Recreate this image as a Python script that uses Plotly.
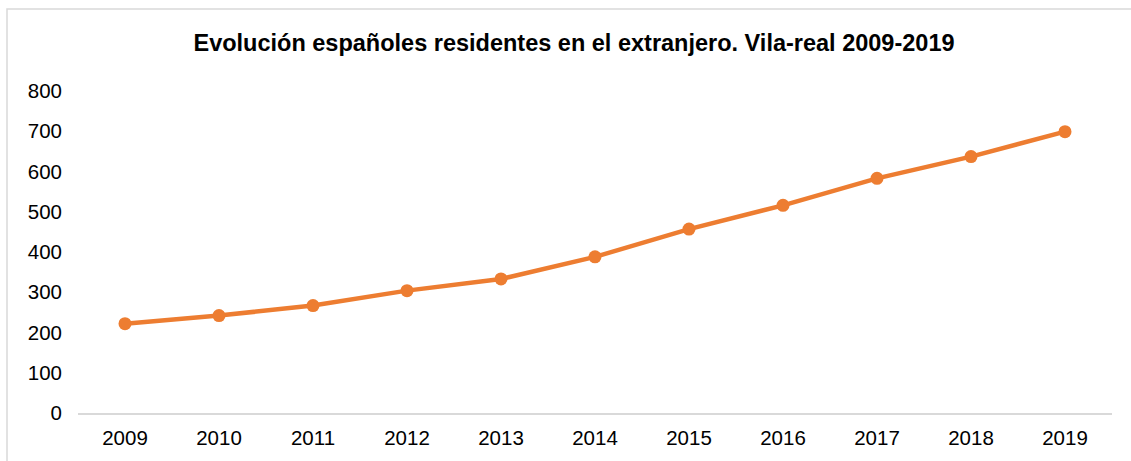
import plotly.graph_objects as go

years = ["2009", "2010", "2011", "2012", "2013", "2014", "2015", "2016", "2017", "2018", "2019"]
residents = [222, 242, 267, 304, 333, 388, 457, 516, 583, 637, 699]
y_ticks = [0, 100, 200, 300, 400, 500, 600, 700, 800]
title_text = "Evolución españoles residentes en el extranjero. Vila-real 2009-2019"

fig = go.Figure()
fig.add_trace(go.Scatter(
    x=years, y=residents, mode="lines+markers",
    line=dict(color="#ED7D31", width=4.5),
    marker=dict(color="#ED7D31", size=13),
    showlegend=False, hoverinfo="x+y",
))

fig.update_layout(
    width=1131, height=461,
    margin=dict(l=78, r=19, t=91, b=46),
    paper_bgcolor="white", plot_bgcolor="white",
    font=dict(family="Liberation Sans, Arial, sans-serif", color="#000000", size=20.5),
    title=dict(text="<b>" + title_text + "</b>", x=574 / 1131, xanchor="center",
               y=1 - 43 / 461, yanchor="middle", yref="container",
               font=dict(size=23.5, color="#000000")),
    xaxis=dict(type="category", range=[-0.5, 10.5], showgrid=False, showline=True,
               linecolor="#d9d9d9", linewidth=1.5,
               ticks="", tickfont=dict(size=20.5), zeroline=False, ticklabelstandoff=6),
    yaxis=dict(range=[0, 800], tickvals=y_ticks, showgrid=False, showline=False, zeroline=False,
               ticks="", tickfont=dict(size=20.5), ticklabelstandoff=15),
    shapes=[dict(type="rect", xref="paper", yref="paper",
                 x0=(7 - 78) / 1034, x1=(1145 - 78) / 1034,
                 y0=(415 - 475) / 324, y1=(415 - 8.5) / 324,
                 line=dict(color="#d9d9d9", width=1.5), fillcolor="rgba(0,0,0,0)", layer="below")],
)

fig.write_html("out.html", config={"displayModeBar": False},
               post_script="document.body.style.margin='0';")
